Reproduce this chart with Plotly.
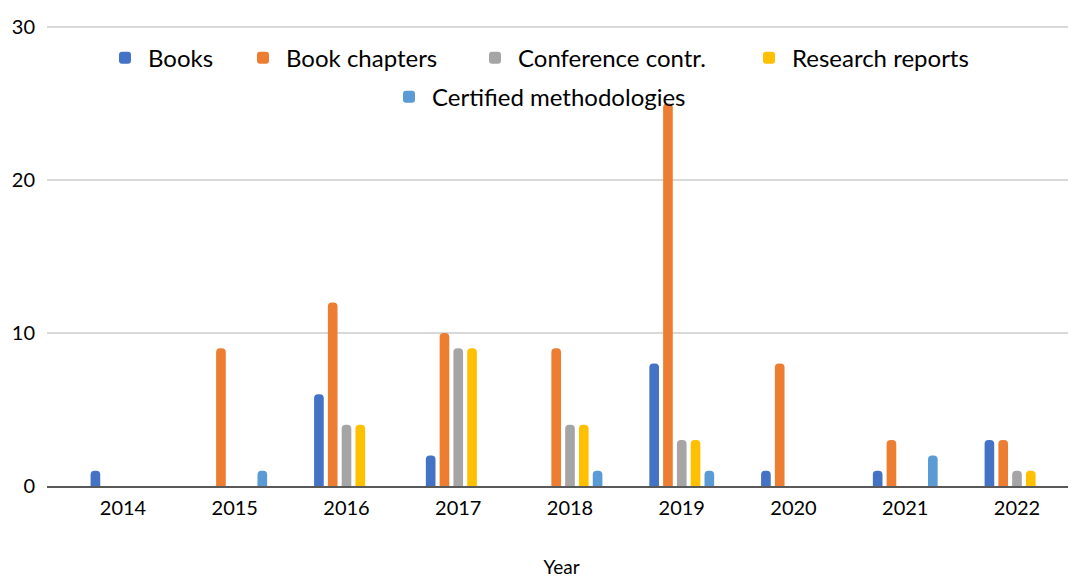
import plotly.graph_objects as go

years = ["2014", "2015", "2016", "2017", "2018", "2019", "2020", "2021", "2022"]
books = [1, 0, 6, 2, 0, 8, 1, 1, 3]
book_chapters = [0, 9, 12, 10, 9, 25, 8, 3, 3]
conference_contr = [0, 0, 4, 9, 4, 3, 0, 0, 1]
research_reports = [0, 0, 4, 9, 4, 3, 0, 0, 1]
certified_methodologies = [0, 1, 0, 0, 1, 1, 0, 2, 0]

names = ["Books", "Book chapters", "Conference contr.", "Research reports",
         "Certified methodologies"]
values = [books, book_chapters, conference_contr, research_reports,
          certified_methodologies]
colors = ["#4472C4", "#ED7D31", "#A5A5A5", "#FFC000", "#5B9BD5"]

# page offset of the plot div (browser body margin)
OFF = 8
PLOT_L, PLOT_R = 47, 1076          # page px
PLOT_T, PLOT_B = 27, 486           # page px for y=30 and y=0
Y_TOP = 30.2
px_per_unit = (PLOT_B - PLOT_T) / 30.0
top_px = PLOT_B - Y_TOP * px_per_unit

W, H = 1076 - OFF, 578 - OFF
margin_l = PLOT_L - OFF
margin_t = top_px - OFF
margin_b = H - (PLOT_B - OFF)
plot_w = PLOT_R - PLOT_L
plot_h = PLOT_B - top_px

# legend entry placement (text start x, row center y) in page px
leg_text_x = [148, 286, 518, 792, 432]
leg_row_y = [58, 58, 58, 58, 97]

FONT = "Lato"
fig = go.Figure()
layout_legends = {}
for i, (name, vals, color) in enumerate(zip(names, values, colors)):
    lg = "legend" if i == 0 else f"legend{i + 1}"
    fig.add_trace(go.Bar(x=years, y=vals, name=name, marker_color=color,
                         marker_line_width=0, legend=lg))
    lx = (leg_text_x[i] - 46 - PLOT_L) / plot_w
    ly = (PLOT_B - leg_row_y[i]) / plot_h
    layout_legends[lg] = dict(
        orientation="h", x=lx, xanchor="left", y=ly, yanchor="middle",
        font=dict(size=24, family=FONT, color="#000000"),
        bgcolor="rgba(0,0,0,0)", itemwidth=36,
    )

fig.update_layout(
    width=W, height=H,
    paper_bgcolor="white", plot_bgcolor="white",
    margin=dict(l=margin_l, r=0, t=margin_t, b=margin_b, autoexpand=False),
    barmode="group", bargap=0.383, bargroupgap=0.3,
    barcornerradius=5,
    font=dict(family=FONT, color="#000000"),
    showlegend=True,
    **layout_legends,
)
fig.update_xaxes(
    type="category", range=[-0.68, 8.528],
    showgrid=False, showline=True, linecolor="#595959", linewidth=2,
    ticks="", tickfont=dict(size=20, family=FONT, color="#000000"),
    ticklabelstandoff=3,
    title=dict(text="Year", font=dict(size=19, family=FONT, color="#000000"), standoff=47),
)
fig.update_yaxes(
    range=[0, Y_TOP], tickvals=[0, 10, 20, 30],
    showgrid=True, gridcolor="#D9D9D9", gridwidth=2,
    zeroline=False, showline=False, ticks="",
    tickfont=dict(size=20, family=FONT, color="#000000"),
    ticklabelstandoff=11,
)
fig.write_html("out.html")
